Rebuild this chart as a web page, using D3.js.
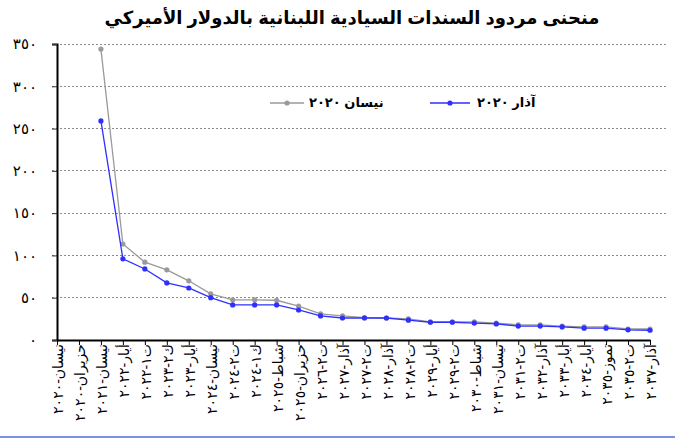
<!DOCTYPE html>
<html>
<head>
<meta charset="utf-8">
<script src="https://cdn.jsdelivr.net/npm/d3@7"></script>
<style>
  html, body { margin: 0; padding: 0; background: #fff; }
  svg { display: block; }
</style>
</head>
<body>
<svg id="chart" width="675" height="439"></svg>
<script>
const title = "منحنى مردود السندات السيادية اللبنانية بالدولار الأميركي";
const categories = [
  "نيسان-٢٠٢٠", "حزيران-٢٠٢٠", "نيسان-٢٠٢١", "أيار-٢٠٢٢", "ت١-٢٠٢٢", "ك٢-٢٠٢٣", "أيار-٢٠٢٣",
  "نيسان-٢٠٢٤", "ت٢-٢٠٢٤", "ك١-٢٠٢٤", "شباط-٢٠٢٥", "حزيران-٢٠٢٥", "ت٢-٢٠٢٦", "آذار-٢٠٢٧",
  "ت٢-٢٠٢٧", "آذار-٢٠٢٨", "ت٢-٢٠٢٨", "أيار-٢٠٢٩", "ت٢-٢٠٢٩", "شباط-٢٠٣٠", "نيسان-٢٠٣١",
  "ت٢-٢٠٣١", "آذار-٢٠٣٢", "أيار-٢٠٣٣", "أيار-٢٠٣٤", "تموز-٢٠٣٥", "ت٢-٢٠٣٥", "آذار-٢٠٣٧"
];
const seriesNames = ["نيسان ٢٠٢٠", "آذار ٢٠٢٠"];
const april2020 = [null, null, 344, 113.5, 92, 83, 70, 54.5, 47.5, 47.5, 47, 40, 31, 28.5,
  26.5, 26, 25, 21.5, 21.5, 21.5, 20, 18, 18, 16.5, 15.5, 15.5, 13, 13];
const march2020 = [null, null, 259, 96, 84, 67.5, 61.5, 50, 41.5, 41.5, 41.5, 35.5, 28.5, 26,
  26, 26, 23.5, 21, 21, 20, 19, 16.5, 16.5, 15.5, 14, 14, 12, 11.5];
const yTicks = [0, 50, 100, 150, 200, 250, 300, 350];

const toArabicDigits = s => String(s).replace(/\d/g, d => "٠١٢٣٤٥٦٧٨٩"[+d]);
const FONT = "Arial, 'Liberation Sans', 'DejaVu Sans', sans-serif";

const svg = d3.select("#chart");
const x = d3.scalePoint().domain(categories).range([57, 650]);
const y = d3.scaleLinear().domain([0, 350]).range([340, 44]);

// title
svg.append("text")
  .attr("x", 352).attr("y", 24)
  .attr("text-anchor", "middle")
  .attr("font-family", FONT)
  .attr("font-weight", "bold")
  .attr("font-size", 18)
  .text(title);

// gridlines
svg.append("g").selectAll("line")
  .data(yTicks.filter(t => t > 0))
  .join("line")
  .attr("x1", 52).attr("x2", 666)
  .attr("y1", d => y(d)).attr("y2", d => y(d))
  .attr("stroke", "#8c8c8c")
  .attr("stroke-width", 1)
  .attr("stroke-dasharray", "2,2")
  .attr("shape-rendering", "crispEdges");

// y axis
const yAxis = svg.append("g")
  .attr("transform", "translate(57,0)")
  .call(d3.axisLeft(y).tickValues(yTicks).tickSize(5).tickPadding(15)
    .tickFormat(d => toArabicDigits(d)));
yAxis.select(".domain").attr("stroke", "#000").attr("stroke-width", 2);
yAxis.selectAll(".tick line").attr("stroke", "#333");
yAxis.selectAll("text")
  .attr("font-family", FONT)
  .attr("font-size", 15)
  .attr("fill", "#000");

// x axis
const xAxis = svg.append("g")
  .attr("transform", "translate(0,340)")
  .call(d3.axisBottom(x).tickSize(5).tickSizeOuter(0));
xAxis.select(".domain").attr("stroke", "#000").attr("stroke-width", 2);
xAxis.selectAll(".tick line").attr("stroke", "#000");
xAxis.selectAll("text")
  .attr("font-family", FONT)
  .attr("font-size", 14)
  .attr("fill", "#000")
  .attr("text-anchor", "end")
  .attr("dy", "0.35em")
  .attr("transform", "translate(1,-2) rotate(-90)")
  .attr("x", -6).attr("y", 0);

// series
const series = [
  { name: seriesNames[0], values: april2020, color: "#9a9a9a", marker: "#9a9a9a" },
  { name: seriesNames[1], values: march2020, color: "#2f2fff", marker: "#2f2fff" }
];
const line = d3.line()
  .defined(d => d.v != null)
  .x(d => x(d.c)).y(d => y(d.v));

series.forEach(s => {
  const pts = categories.map((c, i) => ({ c, v: s.values[i] }));
  svg.append("path")
    .datum(pts)
    .attr("fill", "none")
    .attr("stroke", s.color)
    .attr("stroke-width", 1.3)
    .attr("d", line);
  svg.append("g").selectAll("circle")
    .data(pts.filter(d => d.v != null))
    .join("circle")
    .attr("cx", d => x(d.c)).attr("cy", d => y(d.v))
    .attr("r", 2.6)
    .attr("fill", s.marker);
});

// legend
const legendItems = [
  { name: seriesNames[0], color: "#9a9a9a", x1: 270, x2: 304, tx: 309 },
  { name: seriesNames[1], color: "#2f2fff", x1: 430, x2: 470, tx: 477 }
];
legendItems.forEach(l => {
  svg.append("line")
    .attr("x1", l.x1).attr("x2", l.x2).attr("y1", 103).attr("y2", 103)
    .attr("stroke", l.color).attr("stroke-width", 1.3);
  svg.append("circle")
    .attr("cx", (l.x1 + l.x2) / 2).attr("cy", 103).attr("r", 2.6)
    .attr("fill", l.color);
  svg.append("text")
    .attr("x", l.tx).attr("y", 107)
    .attr("text-anchor", "start")
    .attr("font-family", FONT)
    .attr("font-weight", "bold")
    .attr("font-size", 13)
    .text(l.name);
});

// bottom border line
svg.append("line")
  .attr("x1", 0).attr("x2", 675).attr("y1", 437).attr("y2", 437)
  .attr("stroke", "#4a6ee0").attr("stroke-width", 1.5);
</script>
</body>
</html>
